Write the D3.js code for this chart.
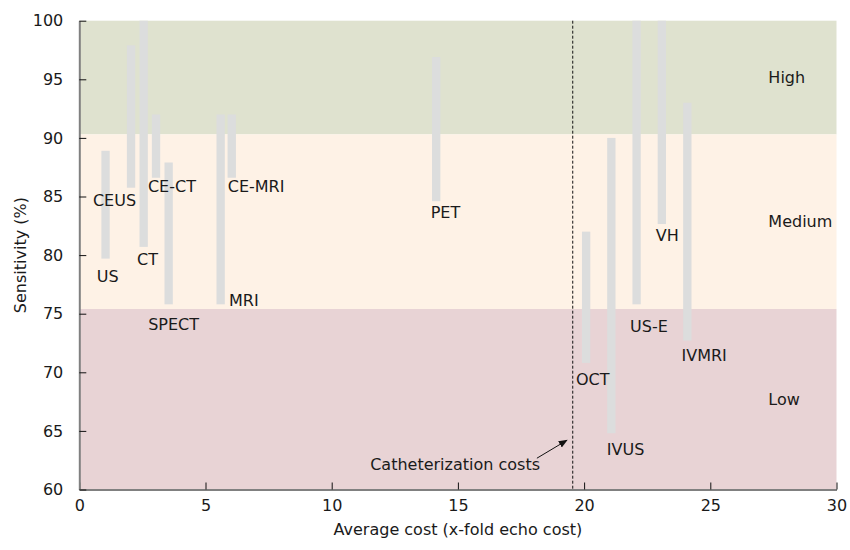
<!DOCTYPE html>
<html>
<head>
<meta charset="utf-8">
<script src="https://cdn.jsdelivr.net/npm/d3@7"></script>
<style>
  html, body { margin: 0; padding: 0; background: #ffffff; }
  svg text { font-family: "DejaVu Sans", Verdana, sans-serif; fill: #1a1a1a; }
</style>
</head>
<body>
<svg id="chart" width="850" height="550"></svg>
<script>
// ---- data ----
const modalities = ["US", "CEUS", "CT", "CE-CT", "SPECT", "MRI", "CE-MRI", "PET", "OCT", "IVUS", "US-E", "VH", "IVMRI"];
const costs      = [1.04, 2.05, 2.55, 3.04, 3.54, 5.6, 6.04, 14.14, 20.08, 21.08, 22.08, 23.08, 24.09];
const sensLow    = [79.7, 85.75, 80.7, 86.6, 75.8, 75.8, 86.6, 84.6, 70.8, 64.8, 75.8, 82.65, 72.7];
const sensHigh   = [88.9, 97.9, 100, 92.0, 87.9, 92.0, 92.0, 96.9, 82.0, 90.0, 100, 100, 93.0];
// label anchor (left edge, vertical middle) in data units
const labelCost  = [0.69, 0.54, 2.29, 2.72, 2.73, 5.93, 5.88, 13.92, 19.68, 20.9, 21.82, 22.84, 23.86];
const labelSens  = [78.16, 84.7, 79.67, 85.84, 74.12, 76.17, 85.84, 83.68, 69.4, 63.43, 73.95, 81.72, 71.48];

const bandNames  = ["High", "Medium", "Low"];
const bandTop    = [100, 90.3, 75.4];
const bandBottom = [90.3, 75.4, 60];
const bandColors = ["#dfe2cf", "#fef2e6", "#e8d3d5"];
const bandLabelCost = 27.3;

const cathCost = 19.55;
const cathLabel = "Catheterization costs";
const cathLabelPos = [14.89, 62.1];
const cathArrowFrom = [18.13, 62.67];
const cathArrowTo = [19.32, 64.2];

const xTicks = [0, 5, 10, 15, 20, 25, 30];
const yTicks = [60, 65, 70, 75, 80, 85, 90, 95, 100];
const xTitle = "Average cost (x-fold echo cost)";
const yTitle = "Sensitivity (%)";
const barWidthUnits = 0.33;

// ---- layout ----
const margin = { left: 79.3, right: 850 - 836.5, top: 20.7, bottom: 550 - 489.5 };
const W = 850, H = 550;
const svg = d3.select("#chart");

const x = d3.scaleLinear().domain([0, 30]).range([margin.left, W - margin.right]);
const y = d3.scaleLinear().domain([60, 100]).range([H - margin.bottom, margin.top]);

// bands
svg.append("g").selectAll("rect").data(bandNames).join("rect")
  .attr("x", x(0))
  .attr("width", x(30) - x(0))
  .attr("y", (d, i) => y(bandTop[i]))
  .attr("height", (d, i) => y(bandBottom[i]) - y(bandTop[i]))
  .attr("fill", (d, i) => bandColors[i]);

// band labels
svg.append("g").selectAll("text").data(bandNames).join("text")
  .attr("x", x(bandLabelCost))
  .attr("y", (d, i) => y((bandTop[i] + bandBottom[i]) / 2))
  .attr("dy", "0.35em")
  .attr("font-size", 16)
  .text(d => d);

// bars
const bw = x(barWidthUnits) - x(0);
svg.append("g").selectAll("rect").data(modalities).join("rect")
  .attr("x", (d, i) => x(costs[i]) - bw / 2)
  .attr("width", bw)
  .attr("y", (d, i) => y(sensHigh[i]))
  .attr("height", (d, i) => y(sensLow[i]) - y(sensHigh[i]))
  .attr("fill", "#dcdddd");

// bar labels
svg.append("g").selectAll("text").data(modalities).join("text")
  .attr("x", (d, i) => x(labelCost[i]))
  .attr("y", (d, i) => y(labelSens[i]))
  .attr("dy", "0.35em")
  .attr("font-size", 16)
  .text(d => d);

// catheterization line
svg.append("line")
  .attr("x1", x(cathCost)).attr("x2", x(cathCost))
  .attr("y1", y(100)).attr("y2", y(60))
  .attr("stroke", "#111").attr("stroke-width", 1)
  .attr("stroke-dasharray", "3,2");

svg.append("defs").append("marker")
  .attr("id", "arrow").attr("viewBox", "0 0 10 10")
  .attr("refX", 9).attr("refY", 5)
  .attr("markerWidth", 9).attr("markerHeight", 9)
  .attr("markerUnits", "userSpaceOnUse")
  .attr("orient", "auto")
  .append("path").attr("d", "M0,1 L10,5 L0,9 Z").attr("fill", "#111");

svg.append("line")
  .attr("x1", x(cathArrowFrom[0])).attr("y1", y(cathArrowFrom[1]))
  .attr("x2", x(cathArrowTo[0])).attr("y2", y(cathArrowTo[1]))
  .attr("stroke", "#111").attr("stroke-width", 1)
  .attr("marker-end", "url(#arrow)");

svg.append("text")
  .attr("x", x(cathLabelPos[0])).attr("y", y(cathLabelPos[1]))
  .attr("dy", "0.35em").attr("text-anchor", "middle")
  .attr("font-size", 16)
  .text(cathLabel);

// axes
const xAxis = svg.append("g")
  .attr("transform", `translate(0,${y(60)})`)
  .call(d3.axisBottom(x).tickValues(xTicks).tickSizeInner(-7).tickSizeOuter(0).tickPadding(10));
const yAxis = svg.append("g")
  .attr("transform", `translate(${x(0)},0)`)
  .call(d3.axisLeft(y).tickValues(yTicks).tickSizeInner(-7).tickSizeOuter(0).tickPadding(16));

[xAxis, yAxis].forEach(g => {
  g.select(".domain").attr("stroke", "#808080").attr("stroke-width", 2);
  g.selectAll(".tick line").attr("stroke", "#111");
  g.selectAll(".tick text").attr("font-size", 16)
    .attr("font-family", '"DejaVu Sans", Verdana, sans-serif').attr("fill", "#1a1a1a");
});

// titles
svg.append("text")
  .attr("x", (x(0) + x(30)) / 2).attr("y", H - 15)
  .attr("text-anchor", "middle").attr("font-size", 16)
  .text(xTitle);

svg.append("text")
  .attr("transform", `translate(26,${(y(60) + y(100)) / 2}) rotate(-90)`)
  .attr("text-anchor", "middle").attr("font-size", 16)
  .text(yTitle);
</script>
</body>
</html>
